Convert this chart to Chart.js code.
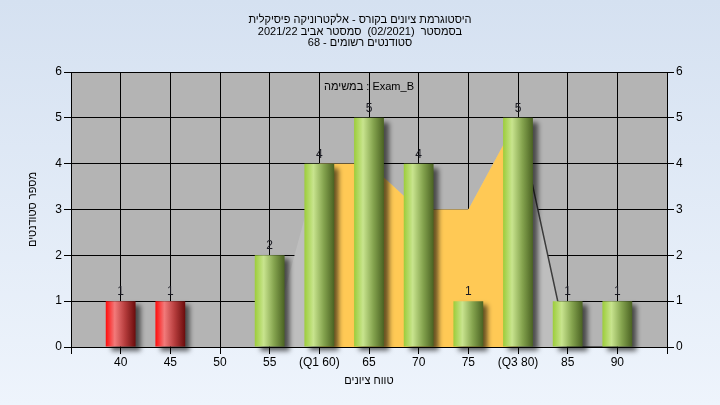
<!DOCTYPE html>
<html lang="he">
<head>
<meta charset="utf-8">
<script src="https://cdn.jsdelivr.net/npm/chart.js@4.4.0/dist/chart.umd.min.js"></script>
<style>
  html, body { margin: 0; padding: 0; }
  body {
    width: 720px; height: 405px; overflow: hidden;
    background: linear-gradient(to bottom, #d5e1f1 0%, #eef4fc 100%);
  }
  canvas { display: block; }
</style>
</head>
<body>
<canvas id="histChart" width="720" height="405"></canvas>
<script>
// === Grade histogram data ===
const gradeBins = [40, 45, 50, 55, 60, 65, 70, 75, 80, 85, 90];
const gradeLabels = ['40', '45', '50', '55', '(Q1 60)', '65', '70', '75', '(Q3 80)', '85', '90'];
const studentCounts = [1, 1, 0, 2, 4, 5, 4, 1, 5, 1, 1];

// area behind the bars: outline (gray) and Q1..Q3 band (orange)
const bandOutline = [0, 0, 0, 0, 4, 4, 3, 3, 5, 0, 0];
const iqrBand = [null, null, null, null, 4, 4, 3, 3, 5, null, null];

const yMin = 0;
const yMax = 6;
const passMark = 55;

const titleLines = [
  'היסטוגרמת ציונים בקורס - אלקטרוניקה פיסיקלית',
  'בסמסטר  (02/2021)  סמסטר אביב 2021/22',
  'סטודנטים רשומים - 68'
];
const seriesLabel = 'במשימה : Exam_B';
const xTitle = 'טווח ציונים';
const yTitle = 'מספר סטודנטים';

// one empty slot on each side so the bins sit half a step in from the axes
const pad = arr => [null, ...arr, null];
const labels = ['', ...gradeLabels, ''];
const paddedBins = pad(gradeBins);

const FONT = "'Liberation Sans', 'DejaVu Sans', sans-serif";
Chart.defaults.font.family = FONT;
Chart.defaults.font.size = 12;
Chart.defaults.color = '#000';

// cylinder-like gradient for each bar
function barFill(context) {
  const chart = context.chart;
  const xs = chart.scales.x;
  if (!chart.chartArea || !xs) return '#9acd32';
  const i = context.dataIndex;
  const cx = xs.getPixelForValue(i);
  const half = xs.width / (labels.length - 1) * 0.3;
  const g = chart.ctx.createLinearGradient(cx - half, 0, cx + half, 0);
  if (paddedBins[i] < passMark) {
    g.addColorStop(0, '#ff0c0c');
    g.addColorStop(0.3, '#f27a7a');
    g.addColorStop(0.65, '#b53c3c');
    g.addColorStop(1, '#6a0c0c');
  } else {
    g.addColorStop(0, '#9ccd3a');
    g.addColorStop(0.3, '#c8e48e');
    g.addColorStop(0.65, '#84a34e');
    g.addColorStop(1, '#4a6222');
  }
  return g;
}

// gray plot background
const plotBackground = {
  id: 'plotBackground',
  beforeDraw(chart) {
    const { ctx, chartArea: a } = chart;
    ctx.save();
    ctx.fillStyle = '#b4b4b4';
    ctx.fillRect(a.left, a.top, a.right - a.left, a.bottom - a.top);
    ctx.restore();
  }
};

// drop shadow for the bars
const barShadow = {
  id: 'barShadow',
  beforeDatasetDraw(chart, args) {
    if (!chart.data.datasets[args.index].shadow) return;
    const ctx = chart.ctx;
    ctx.save();
    ctx.shadowColor = 'rgba(0,0,0,0.6)';
    ctx.shadowBlur = 5;
    ctx.shadowOffsetX = 5;
    ctx.shadowOffsetY = 4;
  },
  afterDatasetDraw(chart, args) {
    if (!chart.data.datasets[args.index].shadow) return;
    chart.ctx.restore();
  }
};

// count above each bar, series name and the 3-line title
const textOverlay = {
  id: 'textOverlay',
  afterDatasetsDraw(chart) {
    const ctx = chart.ctx;
    const a = chart.chartArea;
    ctx.save();
    ctx.font = '12px ' + FONT;
    ctx.fillStyle = '#1a1a22';
    ctx.textAlign = 'center';
    ctx.textBaseline = 'alphabetic';
    const meta = chart.getDatasetMeta(2);
    meta.data.forEach((bar, i) => {
      const v = chart.data.datasets[2].data[i];
      if (!v) return;
      ctx.fillText(String(v), bar.x, bar.y - 6);
    });

    ctx.font = '11px ' + FONT;
    ctx.fillStyle = '#000';
    ctx.direction = 'ltr';
    ctx.fillText(seriesLabel, (a.left + a.right) / 2, a.top + 18);

    ctx.direction = 'rtl';
    titleLines.forEach((line, k) => {
      ctx.fillText(line, chart.width / 2, 23 + k * 11.5);
    });
    ctx.restore();
  }
};

new Chart(document.getElementById('histChart'), {
  type: 'bar',
  data: {
    labels: labels,
    datasets: [
      {
        type: 'line',
        label: 'outline',
        data: pad(bandOutline),
        fill: 'origin',
        backgroundColor: '#bebebe',
        borderWidth: 1.5,
        segment: {
          borderColor: c => (c.p0DataIndex >= 9 ? '#3c3c3c' : 'rgba(0,0,0,0)')
        },
        pointRadius: 0,
        tension: 0,
        order: 3
      },
      {
        type: 'line',
        label: 'Q1-Q3',
        data: pad(iqrBand),
        fill: 'origin',
        backgroundColor: '#ffc955',
        borderWidth: 0,
        pointRadius: 0,
        tension: 0,
        spanGaps: false,
        order: 2
      },
      {
        type: 'bar',
        label: 'Exam_B',
        data: pad(studentCounts),
        backgroundColor: barFill,
        borderWidth: 0,
        barPercentage: 0.6,
        categoryPercentage: 1,
        shadow: true,
        clip: false,
        order: 1
      }
    ]
  },
  options: {
    responsive: false,
    animation: false,
    layout: { padding: { top: 72, left: 0, right: 0, bottom: 0 } },
    plugins: {
      legend: { display: false },
      title: { display: false },
      tooltip: { enabled: false }
    },
    scales: {
      x: {
        type: 'category',
        offset: false,
        grid: { offset: false, color: '#000', lineWidth: 1, tickLength: 7 },
        border: { color: '#000' },
        ticks: { color: '#000', padding: 1, autoSkip: false, maxRotation: 0 },
        title: { display: true, text: xTitle, color: '#000', font: { size: 11 }, padding: { top: 0, bottom: 17 } },
        afterFit: s => { s.height = 58; }
      },
      y: {
        position: 'left',
        min: yMin,
        max: yMax,
        ticks: { stepSize: 1, color: '#000', padding: 2 },
        grid: { color: '#000', lineWidth: 1, tickLength: 7 },
        border: { color: '#000' },
        title: { display: true, text: yTitle, color: '#000', font: { size: 11 }, padding: { top: 26, bottom: 0 } },
        afterFit: s => { s.width = 71; }
      },
      y2: {
        position: 'right',
        min: yMin,
        max: yMax,
        ticks: { stepSize: 1, color: '#000', padding: 2 },
        grid: { drawOnChartArea: false, color: '#000', tickLength: 7 },
        border: { color: '#000' },
        afterFit: s => { s.width = 53; }
      }
    }
  },
  plugins: [plotBackground, barShadow, textOverlay]
});
</script>
</body>
</html>
